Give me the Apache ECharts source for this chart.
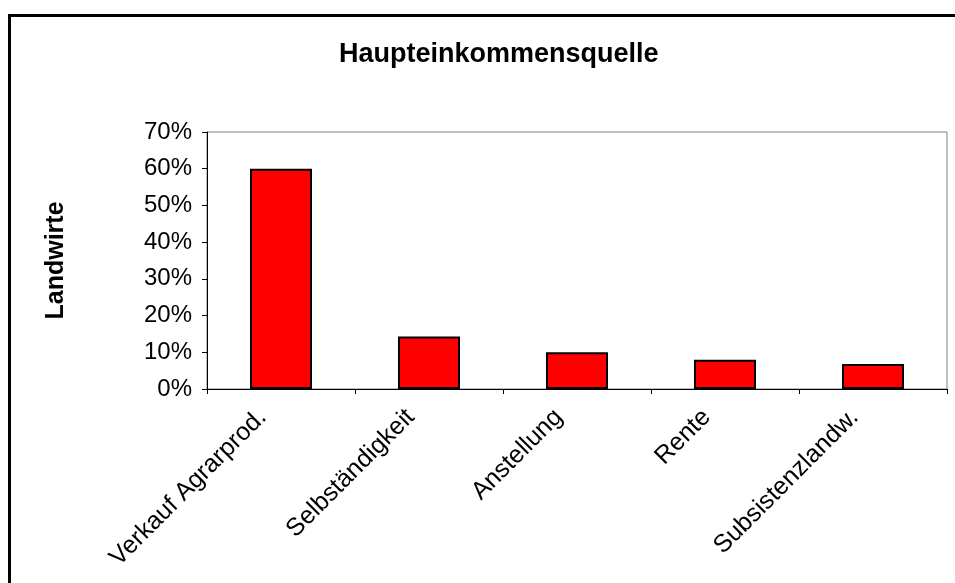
<!DOCTYPE html>
<html>
<head>
<meta charset="utf-8">
<script src="https://cdn.jsdelivr.net/npm/echarts@6/dist/echarts.min.js"></script>
<style>
  html, body { margin: 0; padding: 0; background: #fff; overflow: hidden; }
  #container { width: 955px; height: 583px; }
</style>
</head>
<body>
<div id="container"></div>
<script>
var quellen = ['Verkauf Agrarprod.', 'Selbständigkeit', 'Anstellung', 'Rente', 'Subsistenzlandw.'];
var anteile = [0.60, 0.143, 0.10, 0.08, 0.068];
var achsenTicks = [0, 0.1, 0.2, 0.3, 0.4, 0.5, 0.6, 0.7];

var chart = echarts.init(document.getElementById('container'));
var option = {
    animation: false,
    textStyle: { fontFamily: 'Liberation Sans, Arial, sans-serif' },
    title: {
        text: 'Haupteinkommensquelle',
        left: 334,
        top: 36,
        textStyle: { fontSize: 27, fontWeight: 'bold', color: '#000' }
    },
    graphic: [{
        type: 'rect',
        shape: { x: 9.5, y: 15.5, width: 2000, height: 2000 },
        style: { fill: 'none', stroke: '#000', lineWidth: 3 },
        silent: true
    }],
    grid: {
        left: 207, top: 132, right: 8, bottom: 194,
        show: true, borderColor: '#808080', borderWidth: 1
    },
    xAxis: {
        type: 'category',
        data: quellen,
        axisLine: { lineStyle: { color: '#000' } },
        axisTick: { show: true, length: 5, lineStyle: { color: '#000' } },
        axisLabel: {
            interval: 0, rotate: 45, fontSize: 25, color: '#000', margin: 6,
            padding: [0, 26, 0, 0]
        }
    },
    yAxis: {
        type: 'value',
        min: achsenTicks[0],
        max: achsenTicks[achsenTicks.length - 1],
        interval: 0.1,
        name: 'Landwirte',
        nameLocation: 'middle',
        nameGap: 138,
        nameTextStyle: { fontSize: 25, fontWeight: 'bold', color: '#000' },
        axisLine: { show: true, lineStyle: { color: '#000' } },
        axisTick: { show: true, length: 5, lineStyle: { color: '#000' } },
        splitLine: { show: false },
        axisLabel: {
            fontSize: 24, color: '#000', margin: 15,
            formatter: function (v) { return Math.round(v * 100) + '%'; }
        }
    },
    series: [{
        type: 'bar',
        data: anteile,
        barWidth: 62,
        itemStyle: { color: '#ff0000', borderColor: '#000', borderWidth: 2 }
    }]
};
chart.setOption(option);
</script>
</body>
</html>
